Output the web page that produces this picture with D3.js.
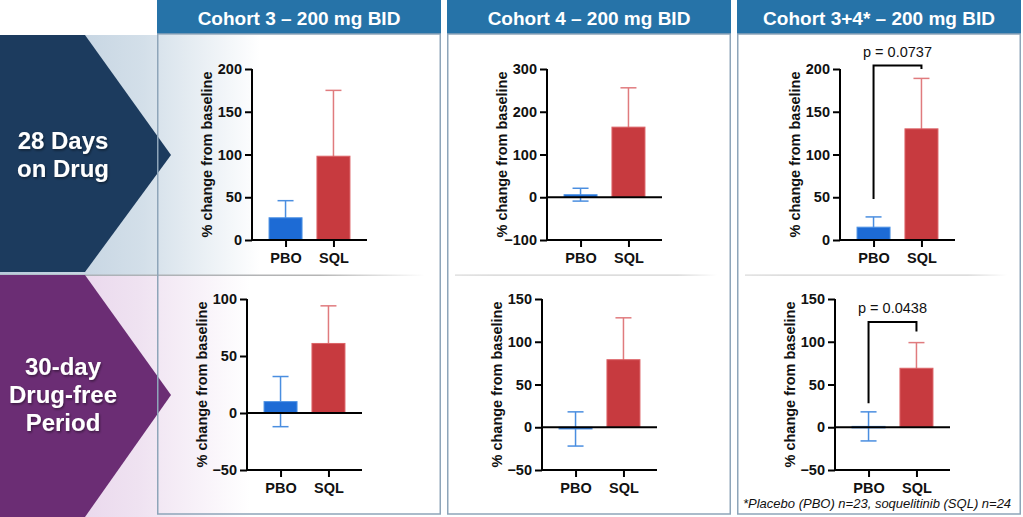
<!DOCTYPE html>
<html>
<head>
<meta charset="utf-8">
<title>Cohort bar charts</title>
<script src="https://cdn.jsdelivr.net/npm/d3@7"></script>
<style>
  body { margin: 0; background: #fff; }
  svg { display: block; font-family: "Liberation Sans", Arial, sans-serif; }
</style>
</head>
<body>
<svg id="mainsvg" width="1023" height="517"></svg>
<script>
// ---- data ----
const cohorts = ["Cohort 3 \u2013 200 mg BID", "Cohort 4 \u2013 200 mg BID", "Cohort 3+4* \u2013 200 mg BID"];
const periods = [["28 Days", "on Drug"], ["30-day", "Drug-free", "Period"]];
const groups = ["PBO", "SQL"];

// mean % change and SEM, one [PBO, SQL] pair per cohort
const meanOnDrug = [[26, 98], [6, 164], [15, 130]];
const semOnDrug = [[20, 77], [15, 92], [12, 59]];
const meanDrugFree = [[10, 61], [-2, 79], [1, 69]];
const semDrugFree = [[22, 33], [20, 49], [17, 30]];

// y tick labels per cohort
const ticksOnDrug = [[0, 50, 100, 150, 200], [-100, 0, 100, 200, 300], [0, 50, 100, 150, 200]];
const ticksDrugFree = [[-50, 0, 50, 100], [-50, 0, 50, 100, 150], [-50, 0, 50, 100, 150]];

// p-value brackets: [label, left leg bottom, right leg bottom, top]
const pOnDrug = [null, null, ["p = 0.0737", 48, 200, 204]];
const pDrugFree = [null, null, ["p = 0.0438", 28, 112, 123]];

const footnote = "*Placebo (PBO) n=23, soquelitinib (SQL) n=24";
const yTitle = "% change from baseline";

// ---- layout ----
const headerH = 34;
const panelX = [157, 447, 737];
const panelW = 284;
const rowTop = [35, 275];
const rowBottom = [275, 517];
const axisOffset = [[95, 100, 103], [90, 95, 98]];
const plotTop = [69, 299];
const plotBottom = [240, 470];
const plotW = 115;

const colors = {
  header: "#2673a8",
  navy: "#1c3b5e",
  purple: "#6b2d74",
  border: "#8ea5b9",
  bar: { PBO: "#1d6bd5", SQL: "#c73a3f" },
  barEdge: { PBO: "#4f93e4", SQL: "#dc6367" },
  err: { PBO: "#4a8ee0", SQL: "#e07b7e" }
};

const svg = d3.select("#mainsvg");
const defs = svg.append("defs");

// background gradients behind the row labels
const grads = [["gradTop", "#b8cadb", "#d3dfe9"], ["gradBot", "#e3cbe7", "#efe2f1"]];
grads.forEach(([id, c0, c1]) => {
  const g = defs.append("linearGradient").attr("id", id).attr("x1", 0).attr("x2", 1).attr("y1", 0).attr("y2", 0);
  g.append("stop").attr("offset", 0).attr("stop-color", c0);
  g.append("stop").attr("offset", 0.55).attr("stop-color", c1);
  g.append("stop").attr("offset", 1).attr("stop-color", "#ffffff");
});
const fade = defs.append("linearGradient").attr("id", "fadeLine").attr("x1", 0).attr("x2", 1);
fade.append("stop").attr("offset", 0).attr("stop-color", "#d8d8d8");
fade.append("stop").attr("offset", 0.15).attr("stop-color", "#cfcfcf");
fade.append("stop").attr("offset", 0.85).attr("stop-color", "#cfcfcf");
fade.append("stop").attr("offset", 1).attr("stop-color", "#ffffff");
const leftLine = defs.append("linearGradient").attr("id", "leftLine").attr("x1", 0).attr("x2", 1);
leftLine.append("stop").attr("offset", 0).attr("stop-color", "#a9b0b8");
leftLine.append("stop").attr("offset", 0.75).attr("stop-color", "#b5b5b5");
leftLine.append("stop").attr("offset", 1).attr("stop-color", "#ffffff");

const shadow = defs.append("filter").attr("id", "txtShadow").attr("x", "-10%").attr("y", "-10%").attr("width", "130%").attr("height", "140%");
shadow.append("feDropShadow").attr("dx", 1).attr("dy", 1.5).attr("stdDeviation", 1).attr("flood-color", "#000").attr("flood-opacity", 0.45);

svg.append("rect").attr("x", 0).attr("y", rowTop[0]).attr("width", 260).attr("height", rowBottom[0] - rowTop[0]).attr("fill", "url(#gradTop)");
svg.append("rect").attr("x", 0).attr("y", rowTop[1]).attr("width", 250).attr("height", rowBottom[1] - rowTop[1]).attr("fill", "url(#gradBot)");

// row divider
svg.append("rect").attr("x", 0).attr("y", 274.5).attr("width", 425).attr("height", 1.5).attr("fill", "url(#leftLine)");
[1, 2].forEach(c => {
  svg.append("rect").attr("x", panelX[c] + 8).attr("y", 274.5).attr("width", panelW - 22).attr("height", 1.2).attr("fill", "url(#fadeLine)");
});

// arrows with row labels
const arrowColors = [colors.navy, colors.purple];
const arrowTip = [155, 395];
periods.forEach((lines, r) => {
  const t = rowTop[r];
  const b = r === 0 ? rowBottom[r] - 3 : rowBottom[r];
  const tip = arrowTip[r];
  const pts = [[0, t], [85, t], [171, tip], [85, b], [0, b]];
  svg.append("path").attr("d", d3.line()(pts) + "Z").attr("fill", arrowColors[r]);
  const lh = 28;
  const y0 = tip - (lines.length - 1) * lh / 2 + 8;
  const txt = svg.append("text")
    .attr("text-anchor", "middle")
    .attr("fill", "#fff")
    .attr("font-weight", "bold")
    .attr("font-size", 24)
    .attr("filter", "url(#txtShadow)");
  lines.forEach((l, i) => {
    txt.append("tspan").attr("x", 63).attr("y", y0 + i * lh).text(l);
  });
});

// panels
cohorts.forEach((name, c) => {
  const px = panelX[c];
  svg.append("rect").attr("x", px).attr("y", 0).attr("width", panelW).attr("height", headerH).attr("fill", colors.header);
  svg.append("text")
    .attr("x", px + panelW / 2).attr("y", 25)
    .attr("text-anchor", "middle").attr("fill", "#fff")
    .attr("font-weight", "bold").attr("font-size", 19)
    .text(name);
  svg.append("rect")
    .attr("x", px + 0.75).attr("y", headerH).attr("width", panelW - 1.5).attr("height", 514 - headerH)
    .attr("fill", "none").attr("stroke", colors.border).attr("stroke-width", 1.5);
});

const rows = [
  { mean: meanOnDrug, sem: semOnDrug, ticks: ticksOnDrug, p: pOnDrug },
  { mean: meanDrugFree, sem: semDrugFree, ticks: ticksDrugFree, p: pDrugFree }
];

rows.forEach((row, r) => {
  cohorts.forEach((_, c) => {
    const ax = panelX[c] + axisOffset[r][c];
    const ticks = row.ticks[c];
    const y = d3.scaleLinear().domain(d3.extent(ticks)).range([plotBottom[r], plotTop[r]]);
    const x = d3.scalePoint().domain(groups).range([0, plotW]).padding(0.7);
    const g = svg.append("g").attr("transform", `translate(${ax},0)`);
    const means = row.mean[c], sems = row.sem[c];
    const data = groups.map((k, i) => ({ k, m: means[i], s: sems[i] }));
    const barW = 33, cap = 16;

    // error bars (behind bars)
    const eb = g.selectAll("g.err").data(data).join("g")
      .attr("stroke", d => colors.err[d.k]).attr("stroke-width", 1.5);
    eb.append("line").attr("x1", d => x(d.k)).attr("x2", d => x(d.k))
      .attr("y1", d => y(d.m - d.s)).attr("y2", d => y(d.m + d.s));
    eb.append("line").attr("x1", d => x(d.k) - cap / 2).attr("x2", d => x(d.k) + cap / 2)
      .attr("y1", d => y(d.m + d.s)).attr("y2", d => y(d.m + d.s));
    eb.append("line").attr("x1", d => x(d.k) - cap / 2).attr("x2", d => x(d.k) + cap / 2)
      .attr("y1", d => y(d.m - d.s)).attr("y2", d => y(d.m - d.s));

    // bars
    g.selectAll("rect.bar").data(data).join("rect")
      .attr("x", d => x(d.k) - barW / 2)
      .attr("y", d => y(Math.max(0, d.m)))
      .attr("width", barW)
      .attr("height", d => Math.max(Math.abs(y(d.m) - y(0)), 1.5))
      .attr("fill", d => colors.bar[d.k])
      .attr("stroke", d => colors.barEdge[d.k])
      .attr("stroke-width", 1);

    // zero line
    if (y.domain()[0] < 0) {
      g.append("line").attr("x1", 0).attr("x2", plotW).attr("y1", y(0)).attr("y2", y(0))
        .attr("stroke", "#000").attr("stroke-width", 2);
    }

    // y axis
    const yAxis = g.append("g")
      .call(d3.axisLeft(y).tickValues(ticks).tickSize(7).tickPadding(3).tickFormat(d3.format("d")));
    // x axis at bottom of domain
    const xAxis = g.append("g").attr("transform", `translate(0,${plotBottom[r]})`)
      .call(d3.axisBottom(x).tickSize(7).tickPadding(6));
    [yAxis, xAxis].forEach(a => {
      a.select(".domain").attr("stroke", "#000").attr("stroke-width", 2);
      a.selectAll(".tick line").attr("stroke", "#000").attr("stroke-width", 2);
      a.selectAll(".tick text").attr("fill", "#111").attr("font-weight", "bold")
        .attr("font-size", 14.5).attr("font-family", "Liberation Sans, Arial, sans-serif");
    });
    yAxis.select(".domain").attr("d", `M0,${plotTop[r]}V${plotBottom[r]}`);
    xAxis.select(".domain").attr("d", `M0,0H${plotW}`);

    // y title
    g.append("text")
      .attr("transform", `translate(-45,${(plotTop[r] + plotBottom[r]) / 2}) rotate(-90)`)
      .attr("text-anchor", "middle").attr("dy", "0.35em")
      .attr("font-weight", "bold").attr("font-size", 14.5).attr("fill", "#111")
      .text(yTitle);

    // significance bracket
    const p = row.p[c];
    if (p) {
      const [label, l0, r0, top] = p;
      const xa = x(groups[0]), xb = x(groups[1]);
      g.append("path")
        .attr("d", `M${xa},${y(l0)}V${y(top)}H${xb}V${y(r0)}`)
        .attr("fill", "none").attr("stroke", "#000").attr("stroke-width", 2);
      g.append("text")
        .attr("x", (xa + xb) / 2).attr("y", y(top) - 9)
        .attr("text-anchor", "middle").attr("font-size", 14.5).attr("fill", "#111")
        .text(label);
    }
  });
});

svg.append("text")
  .attr("x", 743).attr("y", 508)
  .attr("font-style", "italic").attr("font-size", 13).attr("fill", "#111")
  .text(footnote);
</script>
</body>
</html>
